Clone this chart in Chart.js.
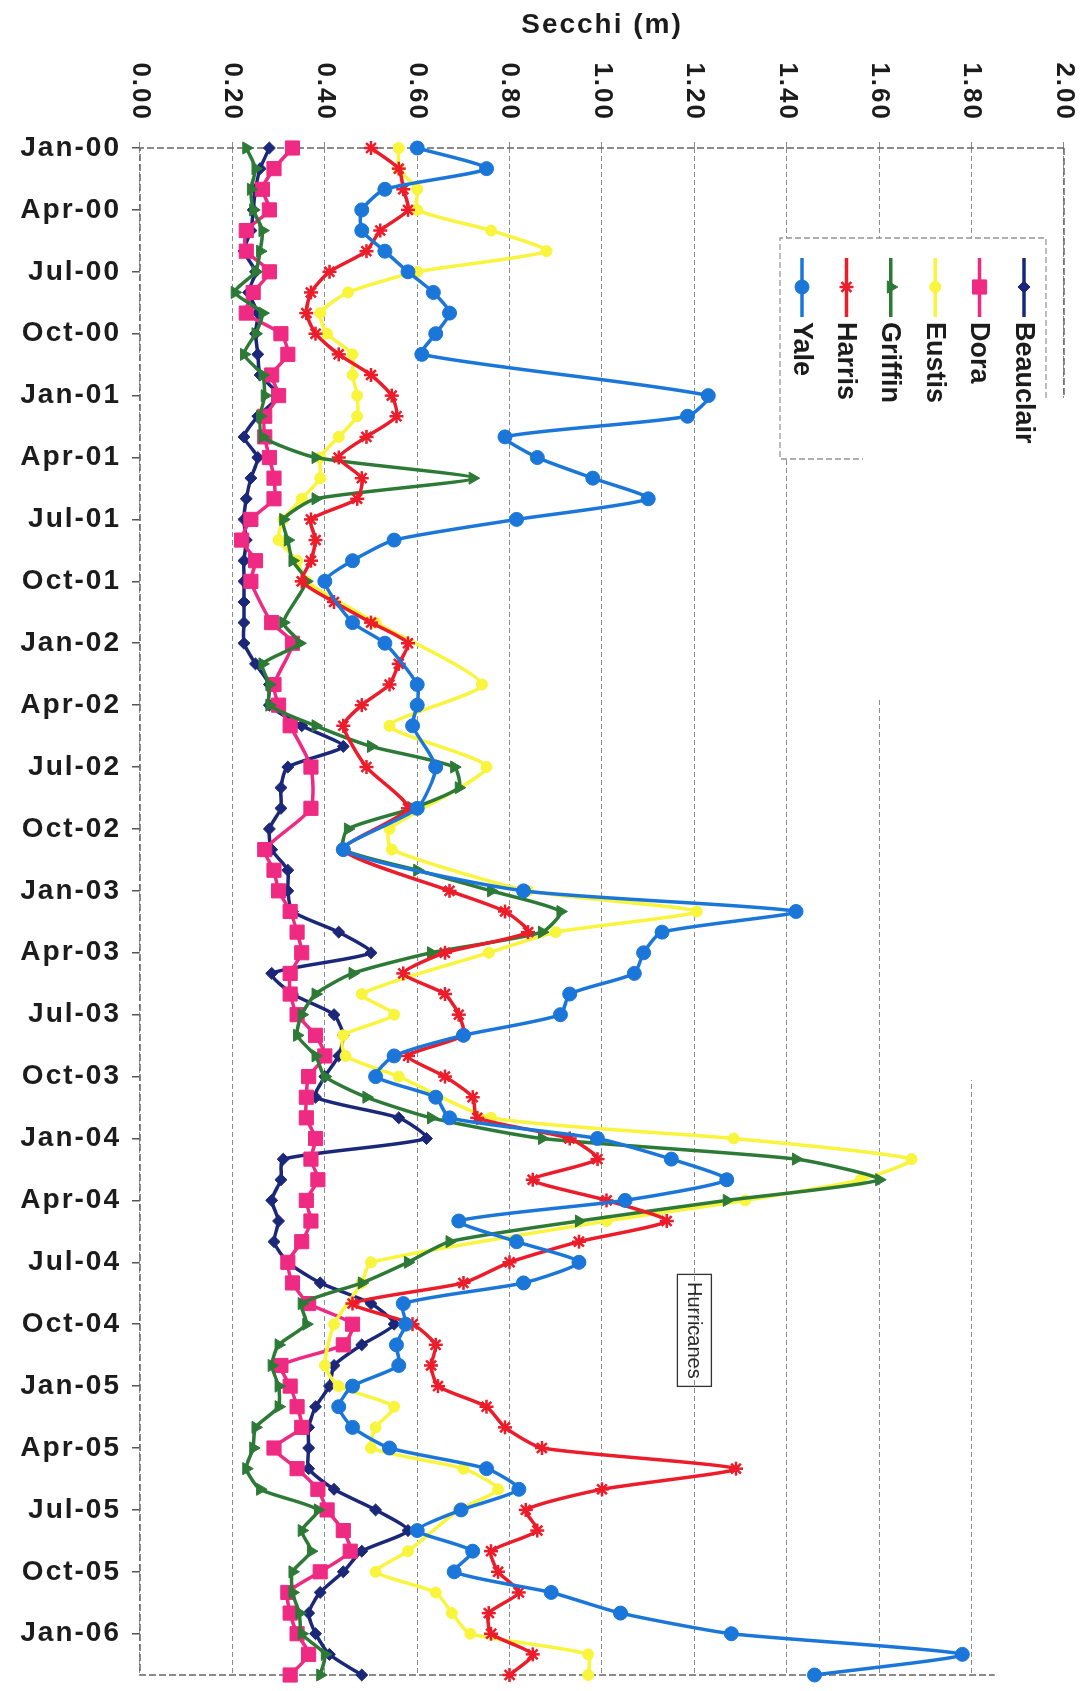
<!DOCTYPE html>
<html>
<head>
<meta charset="utf-8">
<script src="https://cdn.jsdelivr.net/npm/chart.js@4.4.1/dist/chart.umd.min.js"></script>
<style>
  html, body { margin: 0; padding: 0; background: #ffffff; width: 1087px; height: 1691px; overflow: hidden; }
  /* The chart is laid out landscape and turned a quarter turn clockwise onto the page. */
  #wrap { position: absolute; left: 0; top: 0; width: 1691px; height: 1087px;
          transform-origin: 0 0; transform: translateX(1087px) rotate(90deg); }
  canvas { display: block; }
</style>
</head>
<body>
<div id="wrap"><canvas id="secchi" width="1691" height="1087"></canvas></div>
<script>
// Sampling months, Jan 2000 - Mar 2006
const months = [
  "Jan-00","Feb-00","Mar-00","Apr-00","May-00","Jun-00","Jul-00","Aug-00","Sep-00","Oct-00","Nov-00","Dec-00",
  "Jan-01","Feb-01","Mar-01","Apr-01","May-01","Jun-01","Jul-01","Aug-01","Sep-01","Oct-01","Nov-01","Dec-01",
  "Jan-02","Feb-02","Mar-02","Apr-02","May-02","Jun-02","Jul-02","Aug-02","Sep-02","Oct-02","Nov-02","Dec-02",
  "Jan-03","Feb-03","Mar-03","Apr-03","May-03","Jun-03","Jul-03","Aug-03","Sep-03","Oct-03","Nov-03","Dec-03",
  "Jan-04","Feb-04","Mar-04","Apr-04","May-04","Jun-04","Jul-04","Aug-04","Sep-04","Oct-04","Nov-04","Dec-04",
  "Jan-05","Feb-05","Mar-05","Apr-05","May-05","Jun-05","Jul-05","Aug-05","Sep-05","Oct-05","Nov-05","Dec-05",
  "Jan-06","Feb-06","Mar-06"
];

// Secchi depth (m) per lake; null = no sample that month
const yale = [
  0.60, 0.75, 0.53, 0.48, 0.48, 0.53, 0.58, 0.635, 0.67, 0.64, 0.61, null,
  1.23, 1.185, 0.79, 0.86, 0.98, 1.10, 0.815, 0.55, 0.46, 0.40, null, 0.46,
  0.53, null, 0.60, 0.60, 0.59, null, 0.64, null, 0.60, null, 0.44, null,
  0.83, 1.42, 1.13, 1.09, 1.07, 0.93, 0.91, 0.70, 0.55, 0.51, 0.64, 0.67,
  0.99, 1.15, 1.27, 1.05, 0.69, 0.815, 0.95, 0.83, 0.57, 0.575, 0.555, 0.56,
  0.46, 0.43, 0.46, 0.54, 0.75, 0.82, 0.695, 0.60, 0.72, 0.68, 0.89, 1.04,
  1.28, 1.78, 1.46
];
const harris = [
  0.50, 0.56, 0.57, 0.58, 0.52, 0.49, 0.41, 0.37, 0.36, 0.38, 0.43, 0.50,
  0.545, 0.555, 0.49, 0.43, 0.48, 0.47, 0.37, 0.38, 0.37, 0.35, 0.42, 0.50,
  0.58, 0.56, 0.54, 0.48, 0.44, null, 0.49, null, 0.58, null, 0.44, null,
  0.67, 0.79, 0.84, 0.66, 0.57, 0.66, 0.69, 0.70, 0.58, 0.66, 0.72, 0.73,
  0.93, 0.99, 0.85, 1.01, 1.14, 0.95, 0.80, 0.70, 0.46, 0.59, 0.64, 0.63,
  0.645, 0.75, 0.79, 0.87, 1.29, 1.00, 0.835, 0.86, 0.76, 0.775, 0.82, 0.755,
  0.76, 0.85, 0.80
];
const griffin = [
  0.23, 0.25, 0.24, 0.245, 0.265, 0.26, 0.25, 0.205, 0.265, 0.25, 0.225, 0.265,
  0.27, 0.26, 0.265, 0.38, 0.72, 0.38, 0.31, 0.32, 0.33, 0.36, null, 0.31,
  0.345, 0.265, 0.28, 0.28, 0.38, 0.50, 0.68, 0.69, 0.59, 0.45, 0.44, 0.60,
  0.76, 0.91, 0.87, 0.63, 0.46, 0.38, 0.35, 0.34, 0.38, 0.40, 0.49, 0.63,
  0.87, 1.42, 1.60, 1.27, 0.95, 0.67, 0.58, 0.48, 0.35, 0.36, 0.30, 0.285,
  0.30, 0.30, 0.25, 0.245, 0.23, 0.26, 0.385, 0.35, 0.37, 0.33, 0.33, 0.345,
  0.35, 0.40, 0.39
];
const eustis = [
  0.56, 0.56, 0.60, 0.60, 0.76, 0.88, 0.60, 0.45, 0.39, 0.405, 0.46, 0.46,
  0.47, 0.47, 0.43, 0.39, 0.39, 0.35, 0.31, 0.30, 0.34, 0.36, null, 0.51,
  null, null, 0.74, null, 0.54, null, 0.75, null, null, 0.54, 0.545, null,
  0.84, 1.205, 0.90, 0.755, null, 0.48, 0.55, 0.44, 0.445, 0.56, null, 0.76,
  1.285, 1.67, 1.56, 1.31, 1.01, null, 0.50, 0.48, null, 0.42, null, 0.40,
  0.43, 0.55, 0.51, 0.50, 0.70, 0.775, 0.69, null, 0.58, 0.51, 0.64, 0.675,
  0.715, 0.97, 0.97
];
const dora = [
  0.33, 0.29, 0.265, 0.28, 0.23, 0.23, 0.28, 0.245, 0.23, 0.305, 0.32, 0.285,
  0.30, 0.27, 0.27, 0.28, 0.29, 0.29, 0.24, 0.22, 0.25, 0.24, null, 0.285,
  0.33, null, 0.29, 0.30, 0.325, null, 0.37, null, 0.37, null, 0.27, 0.29,
  0.30, 0.325, 0.34, 0.35, 0.325, 0.325, 0.34, 0.38, 0.40, 0.365, 0.36, 0.36,
  0.38, 0.37, 0.385, 0.36, 0.37, 0.35, 0.32, 0.33, 0.365, 0.46, 0.44, 0.305,
  0.325, 0.34, 0.35, 0.29, 0.34, 0.385, 0.405, 0.44, 0.455, 0.39, 0.32, 0.325,
  0.34, 0.365, 0.325
];
const beauclair = [
  0.28, 0.26, 0.25, 0.245, 0.24, 0.225, 0.25, 0.235, 0.255, 0.25, 0.255, 0.26,
  0.30, 0.255, 0.225, 0.255, 0.24, 0.23, 0.225, 0.23, 0.225, 0.225, 0.225, 0.225,
  0.225, 0.25, 0.28, 0.28, 0.35, 0.44, 0.32, 0.305, 0.305, 0.28, 0.285, 0.32,
  0.32, 0.33, 0.43, 0.50, 0.285, 0.33, 0.42, 0.44, 0.43, 0.40, 0.38, 0.56,
  0.62, 0.31, 0.305, 0.285, 0.30, 0.29, 0.32, 0.39, 0.50, 0.55, 0.48, 0.42,
  0.41, 0.38, 0.365, 0.365, 0.365, 0.42, 0.51, 0.58, 0.48, 0.44, 0.39, 0.365,
  0.38, 0.41, 0.48
];

const lakeNames = ["Yale", "Harris", "Griffin", "Eustis", "Dora", "Beauclair"];
const lakeValues = [yale, harris, griffin, eustis, dora, beauclair];
const lakeColors = ["#1b76d9", "#ec1c2a", "#2d7a37", "#f9f43c", "#ef2a82", "#1b2778"];
const lakeMarkers = ["circle", "star", "triangle", "circle", "rect", "rectRot"];
const lakeMarkerSize = [7, 7, 7, 5.5, 10, 6];
const lakeMarkerLine = [1, 2.5, 1, 1, 1, 1];

const FONT = "'Liberation Sans', Arial, sans-serif";
const INK = "#1c1c1c";

// slightly spaced lettering for the axis text
const spacingPlugin = {
  id: "spacing",
  beforeLayout(chart) { chart.ctx.letterSpacing = "2px"; },
  beforeDraw(chart) { chart.ctx.letterSpacing = "2px"; }
};

// dashed plot frame plus the whited-out patch at the right of the plot
const framePlugin = {
  id: "frame",
  beforeDatasetsDraw(chart) {
    const { ctx, chartArea: a } = chart;
    ctx.save();
    ctx.fillStyle = "#ffffff";
    ctx.fillRect(398, 0, 302, a.top + 200);
    ctx.fillRect(700, 0, 380, a.top + 140);
    ctx.fillRect(1080, 0, 611, a.top + 55);
    ctx.strokeStyle = "#666666";
    ctx.lineWidth = 1.5;
    ctx.setLineDash([7, 3]);
    ctx.beginPath();
    ctx.moveTo(a.left, a.top); ctx.lineTo(a.left, a.bottom);
    ctx.lineTo(a.right, a.bottom);
    ctx.lineTo(a.right, chart.scales.y.getPixelForValue(1.85));
    ctx.moveTo(a.left, a.top); ctx.lineTo(398, a.top);
    ctx.stroke();
    ctx.restore();
  }
};

// boxed legend inside the plot and the "Hurricanes" note
const notesPlugin = {
  id: "notes",
  afterDraw(chart) {
    const ctx = chart.ctx;
    const xs = chart.scales.x, ys = chart.scales.y;
    ctx.save();
    ctx.letterSpacing = "0px";
    // legend box (partly erased at its far corner)
    ctx.fillStyle = "#ffffff";
    ctx.fillRect(238, 41, 221, 266);
    ctx.strokeStyle = "#7a7a7a";
    ctx.lineWidth = 1.2;
    ctx.setLineDash([6, 3]);
    ctx.beginPath();
    ctx.moveTo(398, 41); ctx.lineTo(238, 41); ctx.lineTo(238, 307); ctx.lineTo(459, 307); ctx.lineTo(459, 224);
    ctx.stroke();
    ctx.setLineDash([]);
    const order = [5, 4, 3, 2, 1, 0];
    order.forEach((di, row) => {
      const ds = chart.data.datasets[di];
      const y = 63 + row * 44.4;
      ctx.strokeStyle = ds.borderColor;
      ctx.fillStyle = ds.backgroundColor;
      ctx.lineWidth = ds.borderWidth;
      ctx.beginPath(); ctx.moveTo(258, y); ctx.lineTo(317, y); ctx.stroke();
      ctx.lineWidth = ds.pointBorderWidth;
      Chart.helpers.drawPoint(ctx, { pointStyle: ds.pointStyle, radius: ds.pointRadius, rotation: 0, borderWidth: ds.pointBorderWidth }, 287, y);
      ctx.fillStyle = INK;
      ctx.font = "bold 27px " + FONT;
      ctx.textBaseline = "middle";
      ctx.textAlign = "left";
      ctx.fillText(ds.label, 322, y + 1);
    });
    // Hurricanes note
    const cx = xs.getPixelForValue(57.3), cy = ys.getPixelForValue(1.2);
    ctx.strokeStyle = "#333333";
    ctx.lineWidth = 1.3;
    ctx.strokeRect(cx - 56, cy - 17, 112, 34);
    ctx.fillStyle = "#2a2a2a";
    ctx.font = "20px " + FONT;
    ctx.textAlign = "center";
    ctx.fillText("Hurricanes", cx, cy + 1);
    ctx.restore();
  }
};

new Chart(document.getElementById("secchi"), {
  type: "line",
  data: {
    labels: months,
    datasets: lakeNames.map((name, i) => ({
      label: name,
      data: lakeValues[i],
      borderColor: lakeColors[i],
      backgroundColor: lakeColors[i],
      pointBackgroundColor: lakeColors[i],
      pointBorderColor: lakeColors[i],
      pointStyle: lakeMarkers[i],
      pointRadius: lakeMarkerSize[i],
      pointBorderWidth: lakeMarkerLine[i],
      borderWidth: 3.5,
      tension: 0.2,
      spanGaps: true,
      fill: false,
      borderCapStyle: "round",
      borderJoinStyle: "round"
    }))
  },
  options: {
    responsive: false,
    animation: false,
    devicePixelRatio: 1,
    layout: { padding: { top: 23, right: 16, left: 0, bottom: 0 } },
    plugins: { legend: { display: false }, tooltip: { enabled: false } },
    scales: {
      x: {
        type: "category",
        offset: false,
        border: { display: false },
        grid: {
          display: true, drawOnChartArea: false, drawTicks: true, tickLength: 8, lineWidth: 1.5,
          color: (c) => (c.index % 3 === 0 ? "#555555" : "rgba(0,0,0,0)")
        },
        ticks: {
          autoSkip: false, minRotation: 90, maxRotation: 90, padding: 11, color: INK,
          font: { family: FONT, size: 28, weight: "bold" },
          callback: (v, i) => (i % 3 === 0 ? months[i] : "")
        },
        afterFit: (s) => { s.height = 140; s.paddingLeft = 0; s.paddingRight = 0; }
      },
      y: {
        min: 0, max: 2,
        border: { display: false, dash: [5, 3] },
        grid: { color: "#8c8c8c", lineWidth: 1, tickLength: 6 },
        ticks: {
          stepSize: 0.2, padding: 21, color: INK,
          font: { family: FONT, size: 26, weight: "bold" },
          callback: (v) => Number(v).toFixed(2)
        },
        title: {
          display: true, text: "Secchi (m)", color: INK, padding: { top: 8, bottom: 0 },
          font: { family: FONT, size: 28, weight: "bold" }
        },
        afterFit: (s) => { s.width = 148; s.paddingTop = 0; s.paddingBottom = 0; }
      }
    }
  },
  plugins: [spacingPlugin, framePlugin, notesPlugin]
});
</script>
</body>
</html>
